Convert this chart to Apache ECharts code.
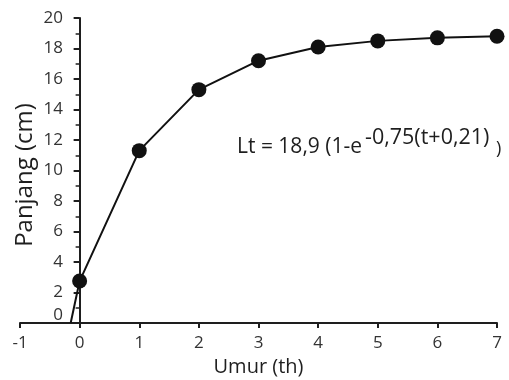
<!DOCTYPE html>
<html>
<head>
<meta charset="utf-8">
<script src="https://cdn.jsdelivr.net/npm/echarts@6/dist/echarts.min.js"></script>
<style>
  html, body { margin: 0; padding: 0; background: #fff; }
  #chart { width: 509px; height: 380px; }
</style>
</head>
<body>
<div id="chart"></div>
<script>
// umur (th) dan panjang (cm); titik pertama = potongan garis di sumbu x (tanpa simbol)
const umur = [-0.15, 0, 1, 2, 3, 4, 5, 6, 7];
const panjang = [0, 2.75, 11.3, 15.3, 17.2, 18.1, 18.5, 18.7, 18.8];
const xTicks = [-1, 0, 1, 2, 3, 4, 5, 6, 7];
const yTicks = [0, 2, 4, 6, 8, 10, 12, 14, 16, 18, 20];

const chart = echarts.init(document.getElementById('chart'));
const font = '"Open Sans", "Noto Sans", sans-serif';
const ink = '#1e1e1e';

const seriesData = umur.map((u, i) => {
	const item = { value: [u, panjang[i]] };
	if (i === 0) item.symbol = 'none';
	return item;
});

chart.setOption({
	animation: false,
	textStyle: { fontFamily: font },
	grid: { left: 20, right: 12, top: 18, bottom: 57, outerBoundsMode: 'none', containLabel: false },
	xAxis: {
		type: 'value',
		min: xTicks[0],
		max: xTicks[xTicks.length - 1],
		interval: 1,
		name: 'Umur (th)',
		nameLocation: 'middle',
		nameGap: 34,
		nameMoveOverlap: false,
		nameTextStyle: { fontSize: 20, color: ink, fontFamily: font },
		axisLine: { onZero: true, lineStyle: { color: ink, width: 2 } },
		axisTick: { length: 5, lineStyle: { color: ink, width: 2 } },
		axisLabel: { fontSize: 17, color: '#333', margin: 12, fontFamily: font },
		splitLine: { show: false }
	},
	yAxis: {
		type: 'value',
		min: yTicks[0],
		max: yTicks[yTicks.length - 1],
		interval: 2,
		name: 'Panjang (cm)',
		nameLocation: 'middle',
		// label dan nama dihitung dari tepi grid, bukan dari garis sumbu di x=0
		nameGap: -17,
		nameRotate: 90,
		nameMoveOverlap: false,
		nameTextStyle: { fontSize: 24, color: ink, fontFamily: font, padding: [0, 9, 0, 0] },
		axisLine: { show: true, onZero: true, lineStyle: { color: ink, width: 2 } },
		axisTick: { show: true, length: 6, lineStyle: { color: ink, width: 2 } },
		minorTick: { show: true, splitNumber: 2, length: 4, lineStyle: { color: ink, width: 1.5 } },
		axisLabel: {
			fontSize: 17, color: '#333', margin: -43, fontFamily: font,
			formatter: v => (v === 0 ? '{z|0}' : String(v)),
			rich: { z: { fontSize: 17, color: '#333', padding: [0, 0, 16, 0], fontFamily: font } }
		},
		splitLine: { show: false }
	},
	series: [{
		type: 'line',
		data: seriesData,
		symbol: 'circle',
		symbolSize: 15,
		itemStyle: { color: '#111' },
		lineStyle: { color: '#111', width: 2 }
	}],
	// persamaan von Bertalanffy
	graphic: [
		{ type: 'text', x: 237, y: 147, style: { text: 'Lt = 18,9 (1-e', fontSize: 21, fill: ink, fontFamily: font, verticalAlign: 'middle' } },
		{ type: 'text', x: 365, y: 138, style: { text: '-0,75(t+0,21)', fontSize: 21.5, fill: ink, fontFamily: font, verticalAlign: 'middle' } },
		{ type: 'text', x: 496, y: 149, style: { text: ')', fontSize: 18, fill: ink, fontFamily: font, verticalAlign: 'middle' } }
	]
});
</script>
</body>
</html>
